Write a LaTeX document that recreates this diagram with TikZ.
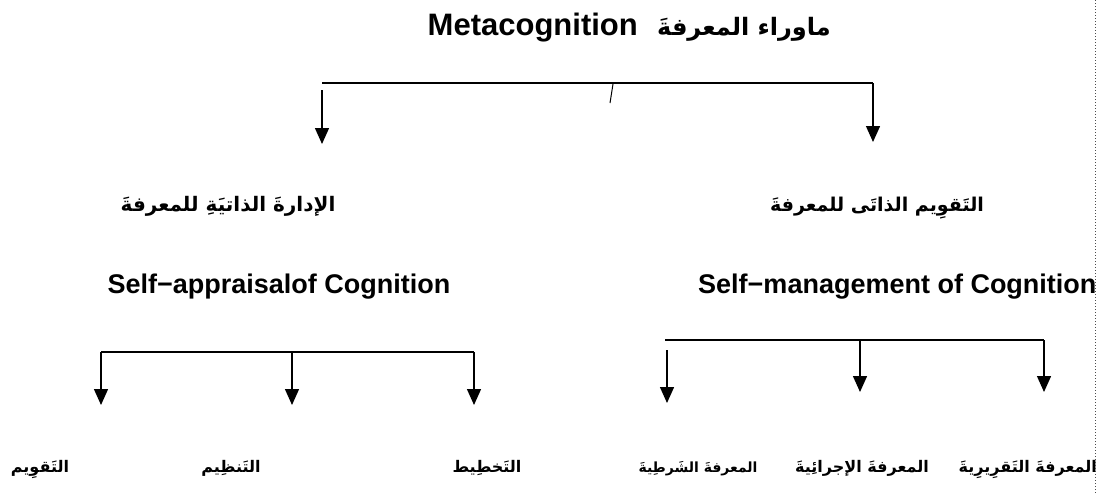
\documentclass[tikz,border=0pt]{standalone}
\usepackage{fontspec}
\setmainfont{Liberation Sans}
\newfontfamily\arabicfont[Script=Arabic]{DejaVu Sans}
\TeXXeTstate=1
\usetikzlibrary{arrows.meta}
\begin{document}
\begin{tikzpicture}[x=1pt,y=-1pt,
  en/.style={inner sep=0pt, font=\fontsize{27}{30}\selectfont\bfseries},
  ttl/.style={inner sep=0pt, font=\fontsize{31}{34}\selectfont\bfseries},
  ar/.style={inner sep=0pt, font=\fontsize{20}{24}\selectfont\arabicfont\bfseries},
  arsm/.style={inner sep=0pt, font=\fontsize{16}{20}\selectfont\arabicfont\bfseries},
  arttl/.style={inner sep=0pt, font=\fontsize{24}{28}\selectfont\arabicfont\bfseries},
  conn/.style={line width=1.4pt},
  arr/.style={conn, -{Triangle[width=14pt,length=16pt]}},
  margin/.style={line width=1pt, dotted, black!70}]
\useasboundingbox (0,0) rectangle (1099,493);
% title
\node[ttl, anchor=base east] (tEn) at (638,35) {Metacognition};
\node[arttl, anchor=base west] (tAr) at (657,35) {\beginR ماوراء المعرفةَ\endR};
% level 2
\node[ar, anchor=base] (arL) at (228,211) {\beginR الإدارةَ الذاتيَةِ للمعرفةَ\endR};
\node[en, anchor=base] (enL) at (279,293) {Self−appraisalof Cognition};
\node[ar, anchor=base, font=\fontsize{19}{23}\selectfont\arabicfont\bfseries] (arR) at (877,211) {\beginR التَقوِيم الذاتَى للمعرفةَ\endR};
\node[en, anchor=base west] (enR) at (698,293) {Self−management of Cognition};
% level 3
\node[arsm, anchor=base] (c1) at (40,472) {\beginR التَقوِيم\endR};
\node[arsm, anchor=base] (c2) at (231,472) {\beginR التَنظِيم\endR};
\node[arsm, anchor=base] (c3) at (487,472) {\beginR التَخطِيط\endR};
\node[arsm, anchor=base, font=\fontsize{14}{18}\selectfont\arabicfont\bfseries] (k1) at (698,472) {\beginR المعرفةَ الشَرطِيةَ\endR};
\node[arsm, anchor=base] (k2) at (862,472) {\beginR المعرفةَ الإجرائِيةَ\endR};
\node[arsm, anchor=base east] (k3) at (1097,472) {\beginR المعرفةَ التَقرِيرِيةَ\endR};
% top tree
\coordinate (tL) at (322,83);
\coordinate (tR) at (873,83);
\coordinate (tLs) at (322,90);
\coordinate (tLe) at (322,144);
\coordinate (tRe) at (873,142);
\coordinate (tkA) at (613,84);
\coordinate (tkB) at (610,103);
\draw[conn] (tL) -- (tR);
\draw[arr] (tLs) -- (tLe);
\draw[arr] (tR) -- (tRe);
\draw[line width=1pt] (tkA) -- (tkB);
% bottom left tree
\coordinate (bL) at (101,352);
\coordinate (bM) at (292,352);
\coordinate (bR) at (474,352);
\coordinate (bLe) at (101,405);
\coordinate (bMe) at (292,405);
\coordinate (bRe) at (474,405);
\draw[conn] (bL) -- (bR);
\draw[arr] (bL) -- (bLe);
\draw[arr] (bM) -- (bMe);
\draw[arr] (bR) -- (bRe);
% bottom right tree
\coordinate (rL) at (665,340);
\coordinate (rM) at (860,340);
\coordinate (rR) at (1044,340);
\coordinate (rLs) at (667,350);
\coordinate (rLe) at (667,403);
\coordinate (rMe) at (860,392);
\coordinate (rRe) at (1044,392);
\draw[conn] (rL) -- (rR);
\draw[arr] (rLs) -- (rLe);
\draw[arr] (rM) -- (rMe);
\draw[arr] (rR) -- (rRe);
% page margin
\coordinate (mT) at (1095,0);
\coordinate (mB) at (1095,493);
\draw[margin] (mT) -- (mB);
\end{tikzpicture}
\end{document}
